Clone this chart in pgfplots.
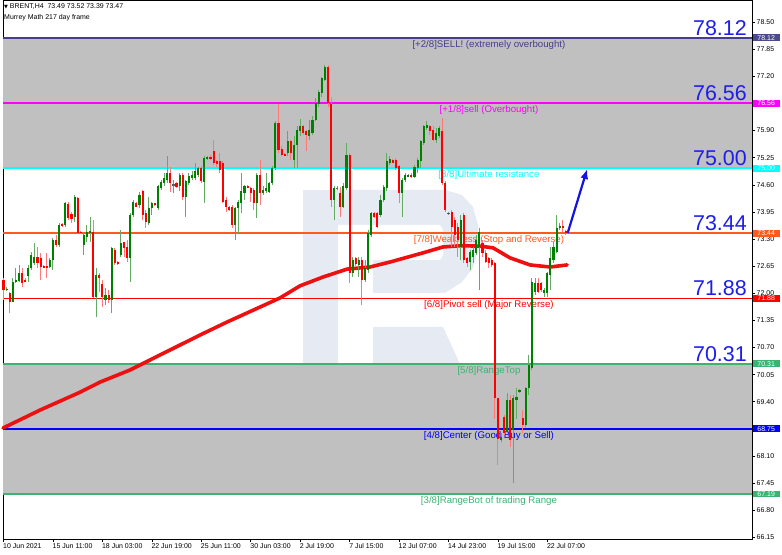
\documentclass[border=0pt]{standalone}
\usepackage{fontspec}
\setmainfont{Liberation Sans}
\newfontfamily\dejavu{DejaVu Sans}
\usepackage{pgfplots}
\pgfplotsset{compat=1.18}
\usepackage{pgfplotstable}
\usetikzlibrary{arrows.meta}
\definecolor{band}{RGB}{192,192,192}
\definecolor{dsb}{RGB}{72,61,139}
\definecolor{dsbbox}{RGB}{75,75,140}
\definecolor{lvlmag}{RGB}{255,0,255}
\definecolor{lvlcyan}{RGB}{0,255,255}
\definecolor{lvlorange}{RGB}{255,90,30}
\definecolor{lvlred}{RGB}{255,0,0}
\definecolor{lvlgreen}{RGB}{60,179,113}
\definecolor{lvlblue}{RGB}{0,0,255}
\definecolor{bignum}{RGB}{30,30,235}
\definecolor{candG}{RGB}{0,128,0}
\definecolor{wickG}{RGB}{100,170,100}
\definecolor{candR}{RGB}{255,0,0}
\definecolor{wickR}{RGB}{255,120,120}
\definecolor{candD}{RGB}{90,90,90}
\definecolor{wm}{RGB}{230,235,243}
\definecolor{maRed}{RGB}{238,16,16}
\definecolor{arrowblue}{RGB}{20,20,225}

\pgfplotstableread{
i o h l c
1 72.08 72.14 72.06 72.11
3 71.80 72.36 71.80 72.28
4 72.28 72.60 72.24 72.32
5 72.30 72.68 72.28 72.48
8 72.42 72.68 72.28 72.60
9 72.60 73.00 72.56 72.92
10 72.72 73.20 72.68 72.88
15 72.64 72.84 72.60 72.80
16 72.80 73.32 72.56 73.28
18 73.16 73.68 73.12 73.65
20 73.64 74.20 73.60 74.16
23 73.84 74.36 73.72 74.32
26 73.16 73.44 72.92 73.40
27 73.36 73.64 73.24 73.48
28 73.45 73.84 73.24 73.50
30 71.90 72.60 71.44 72.44
33 71.84 72.12 71.72 71.96
35 71.84 73.12 71.52 73.08
38 72.92 73.52 72.88 73.20
41 72.84 73.92 72.28 73.88
42 73.88 74.24 73.84 74.20
44 74.12 74.44 74.04 74.36
47 73.68 74.32 73.64 74.04
48 74.04 74.20 73.88 74.16
50 74.04 74.60 74.00 74.56
51 74.52 74.72 74.48 74.68
52 74.64 74.88 74.56 74.76
53 74.72 75.28 74.64 74.88
57 74.56 74.88 74.44 74.84
59 74.32 74.72 73.84 74.68
60 74.64 74.88 74.60 74.80
61 74.76 74.92 74.72 74.84
62 74.76 75.12 74.72 74.92
63 74.84 75.04 74.80 75.00
65 74.68 75.28 74.16 75.24
66 75.21 75.28 75.20 75.26
75 73.64 74.08 73.28 74.04
76 74.04 74.24 73.44 74.20
77 74.16 74.88 73.92 74.44
78 74.40 74.60 74.24 74.56
82 74.16 74.88 73.80 74.84
84 74.40 74.56 74.36 74.48
85 74.44 74.88 74.40 74.52
86 74.44 74.68 74.40 74.64
87 74.64 75.04 74.60 75.00
88 75.00 76.12 74.96 76.08
92 75.36 75.88 75.28 75.64
94 75.20 75.76 75.00 75.56
95 75.56 76.00 75.00 75.92
96 75.88 76.17 75.76 76.01
99 75.76 76.16 75.68 75.92
100 75.84 76.24 75.80 76.16
101 76.16 76.67 76.12 76.55
102 76.55 76.87 76.47 76.83
103 76.79 77.19 76.71 77.15
104 77.11 77.47 77.10 77.43
107 74.24 74.56 73.76 74.52
110 74.08 74.64 74.04 74.56
111 74.52 75.60 74.48 75.32
113 72.48 72.88 72.40 72.80
115 72.68 72.88 72.40 72.80
117 72.32 72.80 72.28 72.60
118 72.56 73.52 72.48 73.44
119 73.40 73.96 73.36 73.92
122 73.88 74.36 73.84 74.24
123 74.24 74.60 74.20 74.56
124 74.52 75.36 74.44 75.16
125 75.12 75.28 75.08 75.21
129 74.40 74.76 73.84 74.72
130 74.72 74.88 74.68 74.84
131 74.80 74.86 74.78 74.84
133 74.80 75.08 74.76 75.04
134 75.00 75.24 74.88 75.20
135 75.16 75.68 75.00 75.64
136 75.60 76.04 75.56 76.00
137 75.96 76.12 75.92 76.04
140 75.68 75.96 75.60 75.84
141 75.76 76.00 75.72 75.96
148 73.12 73.88 72.80 73.76
151 72.76 73.04 72.56 73.00
152 72.88 73.12 72.72 73.04
153 72.96 73.40 72.92 73.28
154 73.12 73.56 72.08 73.48
161 68.48 68.64 68.44 68.56
163 68.68 69.60 68.64 69.44
165 68.72 69.56 67.45 69.48
166 69.44 69.72 69.00 69.52
167 69.64 69.70 69.62 69.68
169 68.84 69.76 68.80 69.72
170 69.72 70.52 69.56 70.28
171 70.20 72.36 70.16 72.28
172 72.04 72.36 71.96 72.24
175 72.00 72.12 71.92 72.08
176 72.00 72.52 71.92 72.48
177 72.44 73.12 72.08 72.84
178 72.80 73.24 72.72 73.12
179 73.00 73.88 72.96 73.56
180 73.56 73.68 73.52 73.62
}\greenc

\pgfplotstableread{
i o h l c
0 72.32 72.36 71.84 72.08
2 72.00 72.02 71.52 71.80
6 72.48 72.60 72.16 72.24
7 72.32 72.36 72.26 72.28
11 72.88 73.12 72.60 72.72
12 72.84 72.96 72.32 72.64
13 72.66 72.68 72.60 72.62
14 72.66 72.96 72.36 72.62
17 73.28 73.40 73.12 73.16
19 73.66 73.68 73.60 73.61
21 74.14 74.20 73.76 73.80
22 73.90 73.96 73.68 73.77
24 74.28 74.32 73.42 73.44
25 73.48 73.50 73.42 73.44
29 73.48 73.76 71.90 71.90
31 72.44 72.48 72.04 72.36
32 72.22 72.32 71.68 71.92
34 71.96 72.08 71.76 71.84
36 73.04 73.08 72.68 72.72
37 72.76 72.78 72.69 72.70
39 73.22 73.24 72.88 73.08
40 73.10 73.28 72.76 72.84
43 74.17 74.20 74.06 74.08
45 74.44 74.48 73.76 73.88
46 73.92 74.00 73.56 73.72
49 74.16 74.17 74.10 74.12
54 74.88 75.04 74.44 74.64
56 74.64 74.68 74.52 74.56
58 74.84 74.88 74.24 74.32
64 75.00 75.04 74.64 74.68
67 75.26 75.32 75.20 75.21
68 75.40 75.68 75.08 75.12
69 75.16 75.20 75.04 75.10
70 75.16 75.36 74.88 74.96
71 75.12 75.16 74.16 74.20
72 74.24 74.32 73.96 74.08
73 74.08 74.09 73.98 74.00
74 74.08 74.12 73.56 73.64
79 74.57 74.59 74.53 74.54
80 74.52 74.56 74.20 74.40
81 74.48 74.52 74.00 74.16
83 74.84 75.20 74.12 74.40
89 76.08 76.55 75.36 75.44
90 75.45 75.52 75.28 75.32
91 75.34 75.36 75.28 75.31
93 75.64 75.68 75.20 75.36
97 76.01 76.04 75.80 75.85
98 75.88 75.92 75.40 75.80
105 77.43 77.47 76.47 76.55
106 76.55 76.71 74.08 74.24
109 74.40 74.56 73.84 74.08
112 75.32 75.36 72.24 72.48
114 72.84 72.88 72.66 72.70
116 72.80 72.88 71.72 72.32
120 73.92 73.96 73.80 73.84
121 73.92 73.96 73.56 73.60
126 75.20 75.21 75.12 75.13
127 75.20 75.24 74.96 75.00
128 75.04 75.08 74.16 74.40
132 74.84 74.88 74.76 74.80
138 76.00 76.04 75.80 75.88
139 75.92 76.00 75.64 75.68
142 75.88 76.20 74.60 74.64
143 74.64 74.68 73.96 74.00
145 73.96 74.00 73.12 73.60
146 73.76 73.84 73.12 73.40
147 73.60 73.68 72.88 73.28
149 73.88 73.92 72.72 72.80
150 72.84 72.88 72.64 72.72
155 73.20 73.28 72.88 72.96
156 72.96 73.04 72.72 72.76
157 72.84 72.88 72.60 72.72
158 72.80 72.84 72.64 72.68
159 72.72 72.76 69.00 69.48
160 69.48 69.50 67.88 68.52
162 69.04 69.08 68.60 68.64
164 69.44 69.56 68.32 68.48
168 69.00 69.20 68.64 68.84
173 72.24 72.36 72.00 72.04
174 72.24 72.28 72.04 72.08
181 73.62 73.76 73.48 73.56
182 73.49 73.52 73.39 73.47
}\redc

\pgfplotstableread{
i o h l c
55 74.61 74.72 74.40 74.59
108 74.53 74.56 74.48 74.51
144 73.93 73.96 73.88 73.91
}\dojic

\pgfplotstableread{
i ma
-0.16 68.77
11.8 69.20
24.8 69.63
31.2 69.87
40.9 70.16
50.6 70.52
63.6 71.00
72.3 71.31
83.0 71.67
89.5 71.89
96.0 72.18
103.4 72.39
111.2 72.58
118.6 72.63
125.1 72.75
135.8 72.97
142.2 73.11
148.0 73.14
154.2 73.13
158.4 73.09
163.9 72.85
170.4 72.68
176.9 72.63
182.4 72.68
}\matab

\newcommand{\lvlfont}{\fontsize{9.7}{11}\selectfont}
\newcommand{\smallfont}{\fontsize{7}{8}\selectfont}
\newcommand{\bigfont}{\fontsize{21.5}{24}\selectfont}
\tikzset{pbox/.style={anchor=west, text=white, font=\smallfont, inner xsep=1bp, inner ysep=1bp, minimum width=27bp, xshift=0.5bp}}

\begin{document}
\begin{tikzpicture}
\useasboundingbox (-3bp,-16bp) rectangle (779bp,539bp);
\fill[white] (-3bp,-16bp) rectangle (779bp,539bp);
\begin{axis}[
  scale only axis,
  width=749bp, height=539bp,
  xmin=-0.162, xmax=242.23, ymin=66.111, ymax=79.030,
  clip=false,
  axis line style={black, line width=0.8bp},
  tick align=outside, major tick length=3bp,
  tick style={black, line width=0.6bp},
  xtick pos=bottom, ytick pos=right, yticklabel pos=right,
  xtick={0,16,32,48,64,80,96,112,128,144,160,176},
  xticklabels={10 Jun 2021, 15 Jun 11:00, 18 Jun 03:00, 22 Jun 19:00, 25 Jun 11:00, 30 Jun 03:00, 2 Jul 19:00, 7 Jul 15:00, 12 Jul 07:00, 14 Jul 23:00, 19 Jul 15:00, 22 Jul 07:00},
  ytick={66.15,66.80,67.45,68.10,68.75,69.40,70.05,70.70,71.35,72.00,72.65,73.30,73.95,74.60,75.25,75.90,76.55,77.20,77.85,78.50},
  yticklabels={66.15,66.80,67.45,68.10,,69.40,70.05,70.70,71.35,72.00,72.65,73.30,73.95,74.60,75.25,75.90,,77.20,77.85,78.50},
  xticklabel style={font=\smallfont, anchor=north west, inner sep=1bp, xshift=-1.5bp},
  yticklabel style={font=\smallfont, anchor=west, inner sep=1.5bp},
]
% watermark
\addplot[fill=wm, draw=none, forget plot] coordinates {(96.93,74.477) (108.25,74.477) (108.25,68.96) (96.93,68.96)};
\addplot[fill=wm, draw=none, forget plot] coordinates {(108.25,74.477) (142.88,74.477) (148.38,74.357) (151.94,74.069) (153.56,73.638) (153.56,73.039) (151.94,72.607) (148.38,72.271) (142.88,72.008) (119.58,72.008) (119.58,72.799) (108.25,72.799)};
\addplot[fill=white, draw=none, forget plot] coordinates {(108.25,73.638) (141.26,73.638) (142.23,73.518) (142.23,72.919) (141.26,72.799) (108.25,72.799)};
\addplot[fill=wm, draw=none, forget plot] coordinates {(119.58,71.193) (142.23,71.193) (149.35,70.042) (119.58,70.042)};
% bands
\addplot[fill=band, draw=none, forget plot] coordinates {(-0.162,75.00) (242.23,75.00) (242.23,78.12) (-0.162,78.12)};
\addplot[fill=band, draw=none, forget plot] coordinates {(-0.162,67.19) (242.23,67.19) (242.23,70.31) (-0.162,70.31)};
% level texts
\node[anchor=north, text=dsb, font=\lvlfont, inner sep=0, yshift=-2bp] at (axis cs:157.1,78.12) {[+2/8]SELL! (extremely overbought)};
\node[anchor=north, text=lvlmag, font=\lvlfont, inner sep=0, yshift=-2bp] at (axis cs:157.1,76.56) {[+1/8]sell (Overbought)};
\node[anchor=north, text=lvlcyan, font=\lvlfont, inner sep=0, yshift=-2bp] at (axis cs:157.1,75.00) {[8/8]Ultimate resistance};
\node[anchor=north, text=lvlorange, font=\lvlfont, inner sep=0, yshift=-2bp] at (axis cs:157.1,73.44) {[7/8]Weakness (Stop and Reverse)};
\node[anchor=north, text=lvlred, font=\lvlfont, inner sep=0, yshift=-2bp] at (axis cs:157.1,71.88) {[6/8]Pivot sell (Major Reverse)};
\node[anchor=north, text=lvlgreen, font=\lvlfont, inner sep=0, yshift=-2bp] at (axis cs:157.1,70.31) {[5/8]RangeTop};
\node[anchor=north, text=lvlblue, font=\lvlfont, inner sep=0, yshift=-2bp] at (axis cs:157.1,68.75) {[4/8]Center (Good Buy or Sell)};
\node[anchor=north, text=lvlgreen, font=\lvlfont, inner sep=0, yshift=-2bp] at (axis cs:157.1,67.19) {[3/8]RangeBot of trading Range};
% level lines
\addplot[dsb, line width=1.5bp, forget plot] coordinates {(-0.162,78.12) (242.23,78.12)};
\addplot[lvlmag, line width=1.5bp, forget plot] coordinates {(-0.162,76.56) (242.23,76.56)};
\addplot[lvlcyan, line width=2.2bp, forget plot] coordinates {(-0.162,75.00) (242.23,75.00)};
\addplot[lvlorange, line width=1.5bp, forget plot] coordinates {(-0.162,73.44) (242.23,73.44)};
\addplot[lvlred, line width=1.5bp, forget plot] coordinates {(-0.162,71.88) (242.23,71.88)};
\addplot[lvlgreen, line width=1.5bp, forget plot] coordinates {(-0.162,70.31) (242.23,70.31)};
\addplot[lvlblue, line width=1.5bp, forget plot] coordinates {(-0.162,68.75) (242.23,68.75)};
\addplot[lvlgreen, line width=1.5bp, forget plot] coordinates {(-0.162,67.19) (242.23,67.19)};
% moving average
\addplot[maRed, line width=3.6bp, line join=round, line cap=round, forget plot] table[x=i, y=ma] {\matab};
% candles: wicks
\addplot[draw=none, mark=none, forget plot, error bars/.cd, y dir=both, y explicit, error mark=none, error bar style={draw=wickG, line width=0.9bp}] table[x=i, y expr={(\thisrow{h}+\thisrow{l})/2}, y error expr={(\thisrow{h}-\thisrow{l})/2}] {\greenc};
\addplot[draw=none, mark=none, forget plot, error bars/.cd, y dir=both, y explicit, error mark=none, error bar style={draw=wickR, line width=0.9bp}] table[x=i, y expr={(\thisrow{h}+\thisrow{l})/2}, y error expr={(\thisrow{h}-\thisrow{l})/2}] {\redc};
\addplot[draw=none, mark=none, forget plot, error bars/.cd, y dir=both, y explicit, error mark=none, error bar style={draw=candD!70, line width=0.9bp}] table[x=i, y expr={(\thisrow{h}+\thisrow{l})/2}, y error expr={(\thisrow{h}-\thisrow{l})/2}] {\dojic};
% candles: bodies
\addplot[draw=none, mark=none, forget plot, error bars/.cd, y dir=both, y explicit, error mark=none, error bar style={draw=candG, line width=2.1bp}] table[x=i, y expr={(\thisrow{o}+\thisrow{c})/2}, y error expr={abs(\thisrow{o}-\thisrow{c})/2}] {\greenc};
\addplot[draw=none, mark=none, forget plot, error bars/.cd, y dir=both, y explicit, error mark=none, error bar style={draw=candR, line width=2.1bp}] table[x=i, y expr={(\thisrow{o}+\thisrow{c})/2}, y error expr={abs(\thisrow{o}-\thisrow{c})/2}] {\redc};
\addplot[draw=none, mark=none, forget plot, error bars/.cd, y dir=both, y explicit, error mark=none, error bar style={draw=candD, line width=2.1bp}] table[x=i, y expr={(\thisrow{o}+\thisrow{c})/2}, y error expr={abs(\thisrow{o}-\thisrow{c})/2}] {\dojic};
% arrow
\addplot[arrowblue, line width=2.2bp, -{Latex[length=10bp,width=8bp]}, forget plot] coordinates {(182.6,73.45) (188.9,74.98)};
% big numbers
\node[anchor=base east, text=bignum, font=\bigfont, inner sep=0, yshift=2.5bp] at (axis cs:240.6,78.12) {78.12};
\node[anchor=base east, text=bignum, font=\bigfont, inner sep=0, yshift=2.5bp] at (axis cs:240.6,76.56) {76.56};
\node[anchor=base east, text=bignum, font=\bigfont, inner sep=0, yshift=2.5bp] at (axis cs:240.6,75.00) {75.00};
\node[anchor=base east, text=bignum, font=\bigfont, inner sep=0, yshift=2.5bp] at (axis cs:240.6,73.44) {73.44};
\node[anchor=base east, text=bignum, font=\bigfont, inner sep=0, yshift=2.5bp] at (axis cs:240.6,71.88) {71.88};
\node[anchor=base east, text=bignum, font=\bigfont, inner sep=0, yshift=2.5bp] at (axis cs:240.6,70.31) {70.31};
% price boxes
\node[pbox, fill=dsbbox] at (axis cs:242.23,78.12) {78.12};
\node[pbox, fill=lvlmag] at (axis cs:242.23,76.56) {76.56};
\node[pbox, fill=lvlcyan] at (axis cs:242.23,75.00) {75.00};
\node[pbox, fill=lvlorange] at (axis cs:242.23,73.44) {73.44};
\node[pbox, fill=lvlred] at (axis cs:242.23,71.88) {71.88};
\node[pbox, fill=lvlgreen] at (axis cs:242.23,70.31) {70.31};
\node[pbox, fill=lvlblue] at (axis cs:242.23,68.75) {68.75};
\node[pbox, fill=lvlgreen] at (axis cs:242.23,67.19) {67.19};
\end{axis}
% header
\node[anchor=north west, font=\smallfont, inner sep=0] at (1bp,536bp) {{\dejavu\fontsize{5}{6}\selectfont ▼}\ BRENT,H4\ \ 73.49 73.52 73.39 73.47};
\node[anchor=north west, font=\smallfont, inner sep=0] at (1bp,525bp) {Murrey Math 217 day frame};
\end{tikzpicture}
\end{document}
